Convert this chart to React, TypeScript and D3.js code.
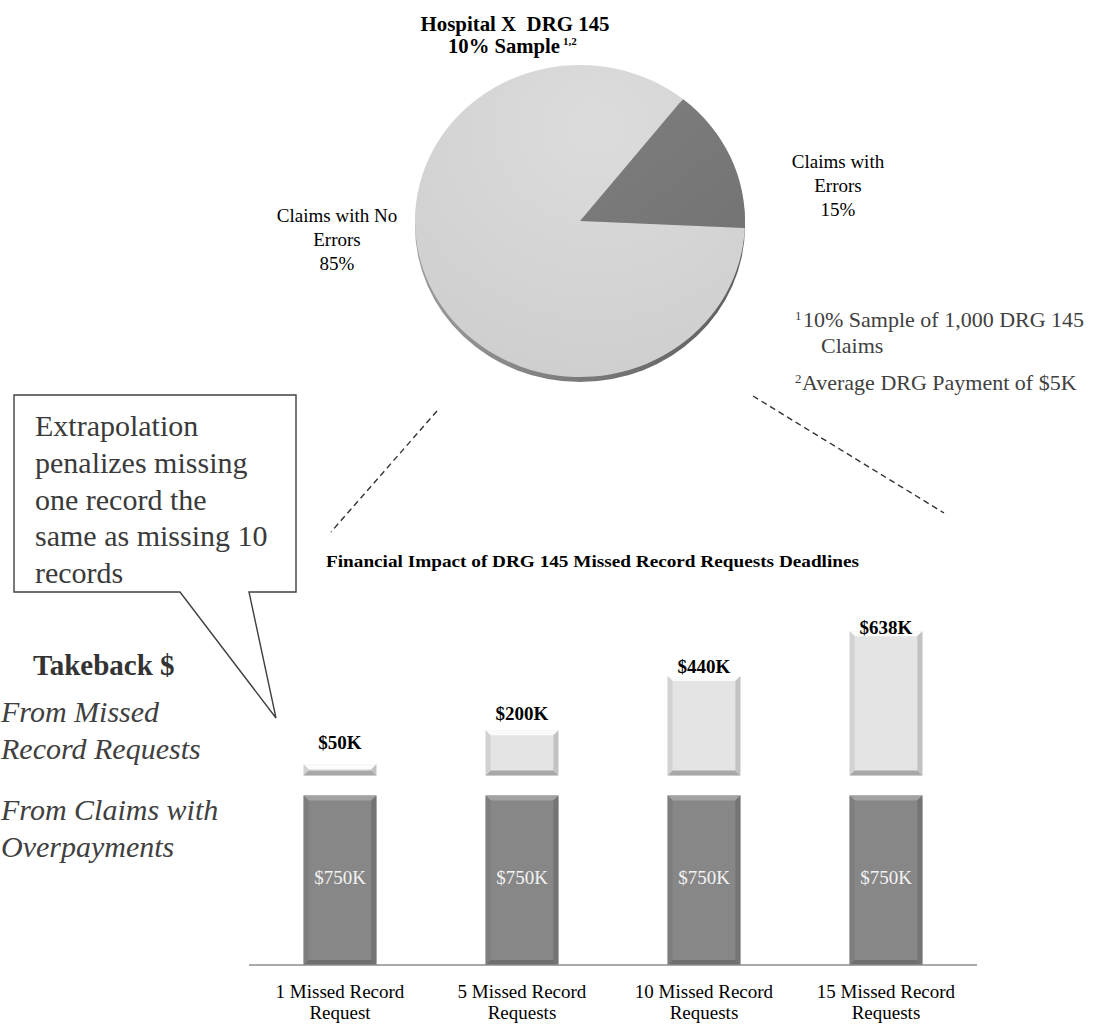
import React from "react";
import * as d3 from "d3";

// Pie: share of sampled claims
const pieCategories = ["Claims with Errors", "Claims with No Errors"];
const pieShares = [15, 85];
const pieLabelLines = [
  ["Claims with", "Errors", "15%"],
  ["Claims with No", "Errors", "85%"],
];

// Bars: takeback dollars (in $K) per scenario
const barCategories = [
  "1 Missed Record Request",
  "5 Missed Record Requests",
  "10 Missed Record Requests",
  "15 Missed Record Requests",
];
const categoryLines = [
  ["1 Missed Record", "Request"],
  ["5 Missed Record", "Requests"],
  ["10 Missed Record", "Requests"],
  ["15 Missed Record", "Requests"],
];
const overpaymentTakeback = [750, 750, 750, 750];
const missedRecordTakeback = [50, 200, 440, 638];

const calloutLines = [
  "Extrapolation",
  "penalizes missing",
  "one record the",
  "same as missing 10",
  "records",
];

const SERIF = "'Liberation Serif', 'Times New Roman', Times, serif";
const fmtK = (v: number) => `$${v}K`;

type Bevel = { face: string; top: string; left: string; right: string; bottom: string };
const lightBevel: Bevel = { face: "#e4e4e4", top: "#fbfbfb", left: "#d2d2d2", right: "#c2c2c2", bottom: "#a8a8a8" };
const darkBevel: Bevel = { face: "#878787", top: "#a2a2a2", left: "#7e7e7e", right: "#747474", bottom: "#6f6f6f" };

function BevelBar({ x, y, w, h, c, b = 5 }: { x: number; y: number; w: number; h: number; c: Bevel; b?: number }) {
  const bb = Math.min(b, h / 2, w / 2);
  const x1 = x + w;
  const y1 = y + h;
  return (
    <g>
      <rect x={x} y={y} width={w} height={h} fill={c.face} />
      <polygon points={`${x},${y} ${x1},${y} ${x1 - bb},${y + bb} ${x + bb},${y + bb}`} fill={c.top} />
      <polygon points={`${x},${y} ${x + bb},${y + bb} ${x + bb},${y1 - bb} ${x},${y1}`} fill={c.left} />
      <polygon points={`${x1},${y} ${x1},${y1} ${x1 - bb},${y1 - bb} ${x1 - bb},${y + bb}`} fill={c.right} />
      <polygon points={`${x},${y1} ${x + bb},${y1 - bb} ${x1 - bb},${y1 - bb} ${x1},${y1}`} fill={c.bottom} />
    </g>
  );
}

export default function App() {
  const W = 1109;
  const H = 1029;

  // ---- pie ----
  const pieCx = 580;
  const pieCy = 221;
  const pieR = 165;
  const squash = 156 / 165;
  const startDeg = 38.6;
  const pie = d3
    .pie<number>()
    .sort(null)
    .value((d) => d)
    .startAngle((startDeg * Math.PI) / 180)
    .endAngle((startDeg * Math.PI) / 180 + 2 * Math.PI);
  const slices = pie(pieShares);
  const arc = d3.arc<d3.PieArcDatum<number>>().innerRadius(0).outerRadius(pieR);
  const sliceFill = ["url(#errGrad)", "url(#okGrad)"];
  const labelAnchors = [
    { x: 838, y: 168 },
    { x: 337, y: 222 },
  ];

  // ---- bars ----
  const axisY = 965;
  const gap = 20;
  const x = d3.scaleBand<string>().domain(barCategories).range([249, 977]).paddingInner(0.6).paddingOuter(0.3);
  const h = d3.scaleLinear().domain([0, 1000]).range([0, 226]);
  const maxMissed = d3.max(missedRecordTakeback) as number;

  return (
    <svg
      width={W}
      height={H}
      viewBox={`0 0 ${W} ${H}`}
      style={{ position: "absolute", left: 0, top: 0, background: "#fff" }}
    >
      <defs>
        <radialGradient id="okGrad" cx="0.55" cy="0.2" r="0.9">
          <stop offset="0" stopColor="#dcdcdc" />
          <stop offset="1" stopColor="#cdcdcd" />
        </radialGradient>
        <linearGradient id="errGrad" x1="0" y1="0" x2="1" y2="1">
          <stop offset="0" stopColor="#7e7e7e" />
          <stop offset="1" stopColor="#747474" />
        </linearGradient>
        <linearGradient id="rimGrad" x1="0" y1="0" x2="1" y2="0">
          <stop offset="0" stopColor="#9a9a9a" />
          <stop offset="0.5" stopColor="#7a7a7a" />
          <stop offset="1" stopColor="#5e5e5e" />
        </linearGradient>
      </defs>

      {/* pie title */}
      <text
        x={515}
        y={31}
        textAnchor="middle"
        fontFamily={SERIF}
        fontWeight="bold"
        fontSize={20}
        textLength={189}
        lengthAdjust="spacingAndGlyphs"
        style={{ whiteSpace: "pre" }}
        fill="#000"
      >
        {"Hospital X  DRG 145"}
      </text>
      <text x={448} y={53} fontFamily={SERIF} fontWeight="bold" fontSize={20} textLength={112} lengthAdjust="spacingAndGlyphs" fill="#000">
        10% Sample
      </text>
      <text x={563} y={45} fontFamily={SERIF} fontWeight="bold" fontSize={11} fill="#000">
        1,2
      </text>

      {/* pie with a thin 3-D rim */}
      <g transform={`translate(${pieCx},${pieCy + 5}) scale(1,${squash})`}>
        <circle r={pieR} fill="url(#rimGrad)" />
      </g>
      <g transform={`translate(${pieCx},${pieCy}) scale(1,${squash})`}>
        {slices.map((s, i) => (
          <path key={pieCategories[i]} d={arc(s) || ""} fill={sliceFill[i]} />
        ))}
      </g>

      {/* pie labels */}
      {pieLabelLines.map((lines, i) => (
        <text key={pieCategories[i]} fontFamily={SERIF} fontSize={19} textAnchor="middle" fill="#000">
          {lines.map((t, j) => (
            <tspan key={j} x={labelAnchors[i].x} y={labelAnchors[i].y + j * 24}>
              {t}
            </tspan>
          ))}
        </text>
      ))}

      {/* footnotes */}
      <g fontFamily={SERIF} fill="#404040">
        <text x={795} y={320} fontSize={13}>1</text>
        <text x={803} y={327} fontSize={22}>10% Sample of 1,000 DRG 145</text>
        <text x={821} y={353} fontSize={22}>Claims</text>
        <text x={795} y={383} fontSize={13}>2</text>
        <text x={802} y={390} fontSize={22}>Average DRG Payment of $5K</text>
      </g>

      {/* zoom guide lines */}
      <g stroke="#333" strokeWidth={1.4} strokeDasharray="6,4">
        <line x1={437} y1={411} x2={331} y2={532} />
        <line x1={753} y1={396} x2={944} y2={513} />
      </g>

      {/* callout */}
      <path
        d="M14,395 H296 V592 H249 L276,718 L180,592 H14 Z"
        fill="#fff"
        stroke="#404040"
        strokeWidth={1.4}
        strokeLinejoin="miter"
      />
      <text fontFamily={SERIF} fontSize={30} fill="#3a3a3a">
        {calloutLines.map((t, i) => (
          <tspan key={i} x={35} y={436 + i * 36.8}>
            {t}
          </tspan>
        ))}
      </text>

      {/* left-hand legend text */}
      <text x={33} y={675} fontFamily={SERIF} fontWeight="bold" fontSize={29} fill="#333">
        Takeback $
      </text>
      <g fontFamily={SERIF} fontStyle="italic" fontSize={30} fill="#404040">
        <text x={1} y={722}>From Missed</text>
        <text x={1} y={759}>Record Requests</text>
        <text x={1} y={820}>From Claims with</text>
        <text x={1} y={857}>Overpayments</text>
      </g>

      {/* bar chart title */}
      <text
        x={326}
        y={567}
        fontFamily={SERIF}
        fontWeight="bold"
        fontSize={17}
        textLength={533}
        lengthAdjust="spacingAndGlyphs"
        fill="#000"
      >
        Financial Impact of DRG 145 Missed Record Requests Deadlines
      </text>

      {/* stacked bars */}
      {barCategories.map((cat, i) => {
        const bx = x(cat) as number;
        const bw = x.bandwidth();
        const dh = h(overpaymentTakeback[i]);
        const dTop = axisY - dh;
        const lh = h(missedRecordTakeback[i]);
        const lBottom = dTop - gap;
        const lTop = lBottom - lh;
        const labelOffset = 17 - 20 * (missedRecordTakeback[i] / maxMissed);
        return (
          <g key={cat}>
            <BevelBar x={bx} y={dTop} w={bw} h={dh} c={darkBevel} />
            <BevelBar x={bx} y={lTop} w={bw} h={lh} c={lightBevel} />
            <text
              x={bx + bw / 2}
              y={dTop + dh / 2 + 4}
              textAnchor="middle"
              fontFamily={SERIF}
              fontSize={19}
              fill="#f2f2f2"
            >
              {fmtK(overpaymentTakeback[i])}
            </text>
            <text
              x={bx + bw / 2}
              y={lTop - labelOffset}
              textAnchor="middle"
              fontFamily={SERIF}
              fontWeight="bold"
              fontSize={19}
              fill="#000"
            >
              {fmtK(missedRecordTakeback[i])}
            </text>
            <text textAnchor="middle" fontFamily={SERIF} fontSize={19} fill="#000">
              {categoryLines[i].map((t, j) => (
                <tspan key={j} x={bx + bw / 2} y={998 + j * 21}>
                  {t}
                </tspan>
              ))}
            </text>
          </g>
        );
      })}

      {/* category axis */}
      <line x1={x.range()[0]} x2={x.range()[1]} y1={axisY} y2={axisY} stroke="#8c8c8c" strokeWidth={1.5} />
    </svg>
  );
}
